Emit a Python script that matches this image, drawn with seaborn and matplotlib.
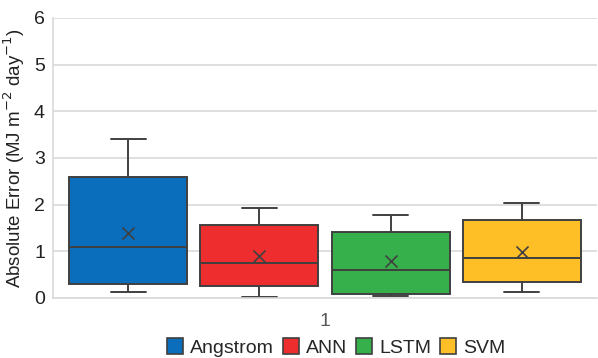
import matplotlib
matplotlib.use("Agg")
import matplotlib.pyplot as plt
import seaborn as sns
import pandas as pd
from matplotlib.patches import Patch

models = ["Angstrom", "ANN", "LSTM", "SVM"]
# five-number summaries: lower whisker, Q1, median, Q3, upper whisker
angstrom = [0.13, 0.30, 1.09, 2.59, 3.40]
ann = [0.02, 0.26, 0.75, 1.56, 1.93]
lstm = [0.05, 0.09, 0.60, 1.41, 1.78]
svm = [0.13, 0.34, 0.86, 1.67, 2.03]
means = [1.39, 0.90, 0.79, 0.99]
colors = ["#0A6EBD", "#EE2E2E", "#36B04A", "#FDBE26"]

rows = []
for m, vals in zip(models, [angstrom, ann, lstm, svm]):
    for v in vals:
        rows.append({"group": "1", "model": m, "value": v})
df = pd.DataFrame(rows)

sns.set_theme(style="white")
plt.rcParams["font.family"] = ["Liberation Sans", "DejaVu Sans"]

fig = plt.figure(figsize=(5.98, 3.58), dpi=100)
ax = fig.add_axes([0.089, 0.168, 0.909, 0.782])

edge = "#404040"
sns.boxplot(data=df, x="group", y="value", hue="model", hue_order=models,
            palette=colors, saturation=1, width=0.965, gap=0.1, whis=10, linewidth=1.4,
            linecolor=edge, showcaps=True, legend=False, ax=ax,
            capprops=dict(color=edge), whiskerprops=dict(color=edge),
            medianprops=dict(color=edge, linewidth=1.4))

# box centres from the drawn patches
centres = []
halfw = []
for p in ax.patches:
    try:
        verts = p.get_path().vertices
        tv = p.get_patch_transform().transform(verts)
        xs = tv[:, 0]
        centres.append((xs.min() + xs.max()) / 2)
        halfw.append((xs.max() - xs.min()) / 2)
    except Exception:
        pass
order = sorted(range(len(centres)), key=lambda i: centres[i])[:len(means)]
centres = [centres[i] for i in order]
hw = halfw[order[0]] if order else 0.1

# shorten caps
for ln in ax.lines:
    xd = list(ln.get_xdata())
    yd = list(ln.get_ydata())
    if len(xd) == 2 and yd[0] == yd[1] and xd[0] != xd[1]:
        span = abs(xd[1] - xd[0])
        if span < hw * 1.9:
            c = (xd[0] + xd[1]) / 2
            ln.set_xdata([c - hw * 0.3, c + hw * 0.3])

ax.scatter(centres, means, marker="x", s=75, color="#404040", linewidths=1.2, zorder=5)

ax.set_ylim(0, 6)
ax.set_xlim(-0.5, 0.5)
ax.set_yticks(range(0, 7))
ax.yaxis.grid(True, color="#d9d9d9", linewidth=1.2)
ax.set_axisbelow(True)
for s in ["top", "right"]:
    ax.spines[s].set_visible(False)
ax.spines["left"].set_color("#d9d9d9")
ax.spines["bottom"].set_color("#d9d9d9")
ax.spines["left"].set_linewidth(1.2)
ax.spines["bottom"].set_linewidth(1.2)
ax.tick_params(axis="y", labelsize=14, colors="#222222", length=0, pad=6)
ax.tick_params(axis="x", labelsize=14, colors="#595959", length=0, pad=11)
ax.set_xlabel("")
ax.set_ylabel("Absolute Error (MJ m$^{-2}$ day$^{-1}$)", fontsize=13.5, color="#222222", labelpad=5)

handles = [Patch(facecolor=c, edgecolor=edge, linewidth=1.2, label=m) for m, c in zip(models, colors)]
fig.legend(handles=handles, loc="center", bbox_to_anchor=(0.562, 0.03), ncol=4, frameon=False,
           fontsize=14, handlelength=0.85, handleheight=0.85, handletextpad=0.35, columnspacing=0.45,
           borderaxespad=0)

fig.savefig("out.png", dpi=100)
